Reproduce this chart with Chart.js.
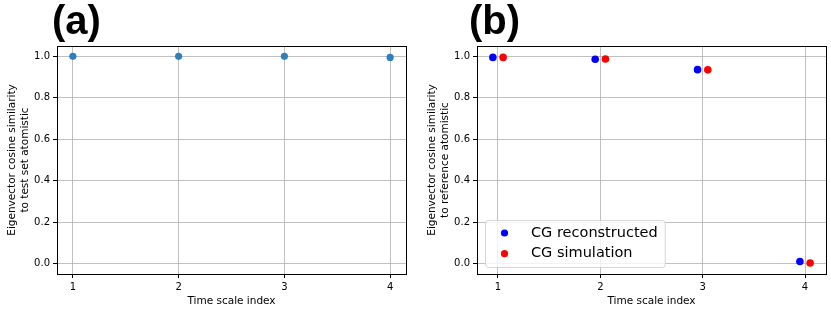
<!DOCTYPE html>
<html>
<head>
<meta charset="utf-8">
<script src="https://cdn.jsdelivr.net/npm/chart.js@4"></script>
<style>
  html, body { margin: 0; padding: 0; background: #fff; }
  #wrap { position: relative; width: 831px; height: 312px; overflow: hidden; }
  .panel { position: absolute; top: 0; height: 312px; }
  .tag { position: absolute; top: 0; font: bold 40px 'Liberation Sans', Arial, sans-serif; line-height: 40px; color: #000; }
</style>
</head>
<body>
<div id="wrap">
  <div class="panel" style="left:0;width:415px"><canvas id="chartA"></canvas></div>
  <div class="panel" style="left:420px;width:411px"><canvas id="chartB"></canvas></div>
  <div class="tag" style="left:52px">(a)</div>
  <div class="tag" style="left:469px">(b)</div>
</div>
<script>
/* ── data ── */
const xTicks = [1, 2, 3, 4];
const yTicks = [0, 0.2, 0.4, 0.6, 0.8, 1.0];

// (a) similarity to test set atomistic
const testSetSim = [1.0, 1.0, 1.0, 0.995];

// (b) similarity to reference atomistic
const reconX = [0.95, 1.95, 2.95, 3.95];
const reconSim = [0.995, 0.986, 0.936, 0.010];
const simX = [1.05, 2.05, 3.05, 4.05];
const simSim = [0.995, 0.987, 0.935, 0.003];

const FONT = "'DejaVu Sans', sans-serif";
Chart.defaults.font.family = FONT;
Chart.defaults.color = '#000';

/* full black frame round the plot area */
const framePlugin = {
  id: 'frame',
  afterDraw(chart) {
    const { ctx, chartArea: a } = chart;
    ctx.save();
    ctx.strokeStyle = '#000'; ctx.lineWidth = 1;
    ctx.strokeRect(Math.round(a.left) + 0.5, Math.round(a.top) + 0.5,
      Math.round(a.right - a.left), Math.round(a.bottom - a.top));
    ctx.restore();
  }
};

/* matplotlib-like legend in the lower left of the axes */
const innerLegend = {
  id: 'innerLegend',
  afterDraw(chart) {
    const { ctx, chartArea: a } = chart;
    const sets = chart.data.datasets;
    ctx.save();
    ctx.font = '14.5px ' + FONT;
    const tw = Math.max(...sets.map(d => ctx.measureText(d.label).width));
    const w = 46 + tw + 7, h = 47;
    const x = a.left + 8, y = a.bottom - 7 - h;
    ctx.beginPath();
    ctx.roundRect(x + 0.5, y + 0.5, w, h, 3);
    ctx.fillStyle = 'rgba(255,255,255,0.8)'; ctx.fill();
    ctx.strokeStyle = 'rgba(204,204,204,0.8)'; ctx.lineWidth = 1; ctx.stroke();
    sets.forEach((d, i) => {
      const cy = y + 13 + i * 20.7;
      ctx.beginPath(); ctx.arc(x + 19.5, cy, 3.6, 0, Math.PI * 2);
      ctx.fillStyle = d.backgroundColor; ctx.fill();
      ctx.fillStyle = '#000'; ctx.textBaseline = 'middle';
      ctx.fillText(d.label, x + 46, cy);
    });
    ctx.restore();
  }
};

function axes(yTitle, xMin, xMax, yW, xH, onTop) {
  const grid = { color: '#b0b0b0', lineWidth: 0.8, tickColor: '#000', tickLength: 4, tickWidth: 1 };
  return {
    x: {
      type: 'linear', min: xMin, max: xMax, z: onTop ? 1 : 0,
      afterBuildTicks: s => { s.ticks = xTicks.map(v => ({ value: v })); },
      afterFit: s => { s.height = xH; },
      grid, border: { display: false },
      ticks: { font: { size: 10 }, padding: 3, maxRotation: 0 },
      title: { display: true, text: 'Time scale index', font: { size: 10.5 }, padding: { top: 4, bottom: 4 } }
    },
    y: {
      min: -0.05, max: 1.05, z: onTop ? 1 : 0,
      afterBuildTicks: s => { s.ticks = yTicks.map(v => ({ value: v })); },
      afterFit: s => { s.width = yW; },
      grid, border: { display: false },
      ticks: { font: { size: 10 }, padding: 3, callback: v => v.toFixed(1) },
      title: { display: true, text: yTitle, font: { size: 10.5, lineHeight: 1.3 }, padding: { top: 5, bottom: 5 } }
    }
  };
}

const base = {
  responsive: true, maintainAspectRatio: false, animation: false,
  plugins: { legend: { display: false }, tooltip: { enabled: false } }
};

new Chart(document.getElementById('chartA'), {
  type: 'scatter',
  data: {
    datasets: [{
      label: 'test set', data: xTicks.map((x, i) => ({ x, y: testSetSim[i] })),
      backgroundColor: '#2f7fbf', borderWidth: 0, pointRadius: 3.6
    }]
  },
  options: { ...base, layout: { padding: { top: 46, right: 9, left: 0, bottom: 0 } },
    scales: axes(['Eigenvector cosine similarity', 'to test set atomistic'], 0.85, 4.15, 57, 38, true) },
  plugins: [framePlugin]
});

new Chart(document.getElementById('chartB'), {
  type: 'scatter',
  data: {
    datasets: [
      { label: 'CG reconstructed', data: reconX.map((x, i) => ({ x, y: reconSim[i] })),
        backgroundColor: '#0000ff', borderWidth: 0, pointRadius: 3.8 },
      { label: 'CG simulation', data: simX.map((x, i) => ({ x, y: simSim[i] })),
        backgroundColor: '#ff0000', borderWidth: 0, pointRadius: 3.8 }
    ]
  },
  options: { ...base, layout: { padding: { top: 46, right: 5, left: 0, bottom: 0 } },
    scales: axes(['Eigenvector cosine similarity', 'to reference atomistic'], 0.795, 4.205, 57, 38, false) },
  plugins: [framePlugin, innerLegend]
});
</script>
</body>
</html>
